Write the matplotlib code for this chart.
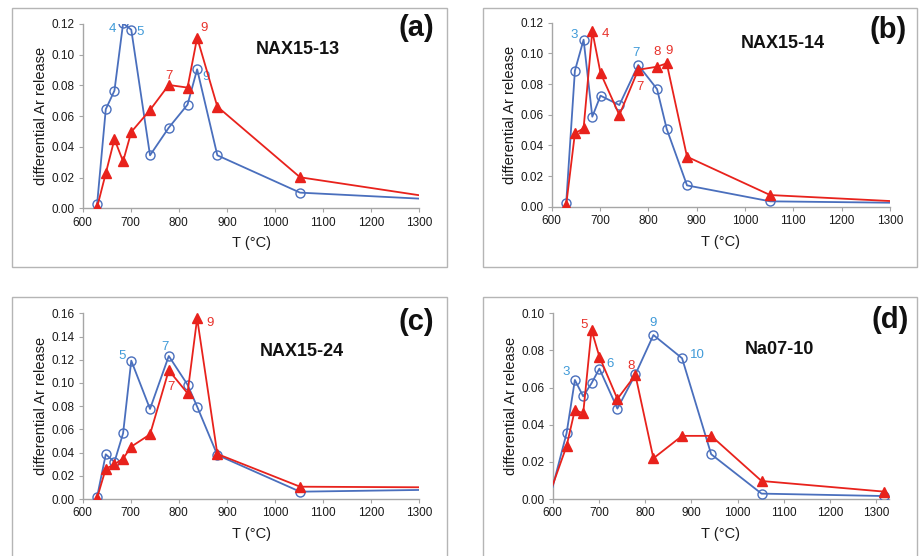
import matplotlib
matplotlib.use('Agg')
import matplotlib.pyplot as plt
from matplotlib.patches import Rectangle
from matplotlib.ticker import FormatStrFormatter

plt.rcParams['font.family'] = ['Liberation Sans', 'DejaVu Sans']

# step temperatures (last value is where the line leaves the plot)
T_std = [630, 648, 666, 684, 701, 740, 779, 818, 838, 880, 1052, 1300]
T_na = [600, 630, 648, 666, 684, 701, 740, 779, 818, 880, 943, 1052, 1316]

# (a) NAX15-13
a_blue = [0.0028, 0.0645, 0.0766, 0.1204, 0.1163, 0.0345, 0.0525, 0.0675, 0.0905, 0.0345, 0.0102, 0.0063]
a_red = [0.0007, 0.0228, 0.0450, 0.0306, 0.0497, 0.0640, 0.0803, 0.0786, 0.1111, 0.0662, 0.0202, 0.0085]

# (b) NAX15-14
b_blue = [0.0024, 0.0887, 0.1089, 0.0587, 0.0724, 0.0663, 0.0924, 0.0767, 0.0507, 0.0139, 0.0035, 0.0026]
b_red = [0.0012, 0.0478, 0.0511, 0.1145, 0.0872, 0.0598, 0.0893, 0.0913, 0.0935, 0.0326, 0.0076, 0.0037]

# (c) NAX15-24
c_blue = [0.0020, 0.0385, 0.0319, 0.0566, 0.1192, 0.0776, 0.1232, 0.0985, 0.0796, 0.0379, 0.0063, 0.0078]
c_red = [0.0010, 0.0261, 0.0299, 0.0348, 0.0451, 0.0557, 0.1109, 0.0911, 0.1557, 0.0388, 0.0106, 0.0101]

# (d) Na07-10
d_blue = [0.0066, 0.0354, 0.0641, 0.0553, 0.0623, 0.0702, 0.0487, 0.0671, 0.0883, 0.0758, 0.0241, 0.0029, 0.0016]
d_red = [0.0075, 0.0285, 0.0480, 0.0461, 0.0910, 0.0767, 0.0539, 0.0668, 0.0219, 0.0340, 0.0340, 0.0097, 0.0040]

# step-number labels: (text, T, value, series)
a_notes = [('4', 661, 0.1167, 'b'), ('5', 719, 0.1146, 'b'), ('9', 857, 0.0853, 'b'),
           ('7', 779, 0.0861, 'r'), ('9', 852, 0.1172, 'r')]
b_notes = [('3', 647, 0.1120, 'b'), ('4', 712, 0.1124, 'r'), ('7', 774, 0.1004, 'b'),
           ('7', 783, 0.0778, 'r'), ('8', 817, 0.1011, 'r'), ('9', 843, 0.1015, 'r')]
c_notes = [('5', 681, 0.1232, 'b'), ('7', 772, 0.1313, 'b'), ('7', 783, 0.0962, 'r'),
           ('9', 865, 0.1514, 'r')]
d_notes = [('3', 630, 0.0686, 'b'), ('5', 668, 0.0937, 'r'), ('6', 725, 0.0725, 'b'),
           ('8', 769, 0.0718, 'r'), ('9', 818, 0.0946, 'b'), ('10', 913, 0.0776, 'b')]

BLUE = '#4a6fbd'
RED = '#e8221c'
NOTE = {'b': '#3f9ad8', 'r': '#e8322b'}
GRAY = '#a6a6a6'

W, H = 919, 556
fig = plt.figure(figsize=(W / 100, H / 100), dpi=100)


def px_axes(l, t, r, b):
    return fig.add_axes([l / W, 1 - b / H, (r - l) / W, (b - t) / H])


def panel(box, ax_px, T, blue, red, ymax, xmax, name, name_xy, letter, letter_xy, notes, mk_blue, mk_red):
    # gray frame round each panel
    x0, y0, x1, y1 = box
    fig.patches.append(Rectangle((x0 / W, 1 - y1 / H), (x1 - x0) / W, (y1 - y0) / H,
                                 transform=fig.transFigure, fill=False,
                                 edgecolor='#b5b5b5', linewidth=1.0))
    ax = px_axes(*ax_px)
    ax.plot(T, blue, color=BLUE, lw=1.3, marker='o', ms=6.5, mfc='none', mec=BLUE,
            mew=1.0, markevery=mk_blue, zorder=3)
    ax.plot(T, red, color=RED, lw=1.3, marker='^', ms=7, mfc=RED, mec=RED,
            markevery=mk_red, zorder=4)
    ax.set_xlim(600, xmax)
    ax.set_ylim(0, ymax)
    ax.set_xticks(range(600, 1301, 100))
    ax.set_yticks([i * 0.02 for i in range(int(round(ymax / 0.02)) + 1)])
    ax.yaxis.set_major_formatter(FormatStrFormatter('%.2f'))
    for s in ['top', 'right']:
        ax.spines[s].set_visible(False)
    for s in ['left', 'bottom']:
        ax.spines[s].set_color(GRAY)
        ax.spines[s].set_linewidth(1.0)
    ax.tick_params(direction='out', length=3, width=0.8, color=GRAY,
                   labelsize=8.5, labelcolor='#1a1a1a', pad=3)
    ax.set_xlabel('T (°C)', fontsize=10.5, color='#1a1a1a')
    ax.set_ylabel('differential Ar release', fontsize=10.5, color='#1a1a1a')
    ax.xaxis.set_label_coords(0.5, -0.152)
    ax.yaxis.set_label_coords(-0.104, 0.5)
    for txt, x, y, s in notes:
        ax.text(x, y, txt, color=NOTE[s], fontsize=9.5, ha='center', va='center')
    fig.text(name_xy[0] / W, 1 - name_xy[1] / H, name, fontsize=13, fontweight='bold',
             ha='center', va='center', color='#111111')
    fig.text(letter_xy[0] / W, 1 - letter_xy[1] / H, letter, fontsize=21, fontweight='bold',
             ha='center', va='center', color='#111111')
    return ax


n = len(T_std)
panel((12, 8, 447, 267), (82.7, 24, 419.3, 208.3), T_std, a_blue, a_red, 0.12, 1300,
      'NAX15-13', (298, 49), '(a)', (416, 28.5), a_notes, range(n - 1), range(n - 1))
panel((483, 8, 917, 267), (551.7, 22.7, 890, 206.7), T_std, b_blue, b_red, 0.12, 1300,
      'NAX15-14', (783, 43), '(b)', (888, 30.5), b_notes, range(n - 1), range(n - 1))
panel((12, 297, 447, 570), (82.7, 313.3, 419.3, 499), T_std, c_blue, c_red, 0.16, 1300,
      'NAX15-24', (302, 351.7), '(c)', (416.5, 321.7), c_notes, range(n - 1), range(n - 1))
panel((483, 297, 917, 570), (552.7, 313.3, 888.6, 499), T_na, d_blue, d_red, 0.10, 1327,
      'Na07-10', (779.5, 350), '(d)', (890, 320), d_notes,
      range(1, len(T_na)), range(1, len(T_na)))

fig.savefig('out.png', dpi=100)
